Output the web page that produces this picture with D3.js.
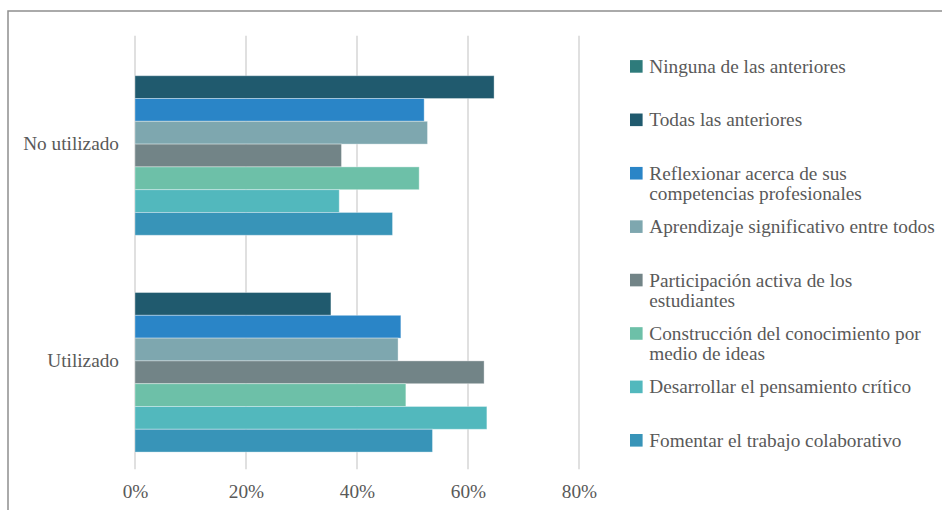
<!DOCTYPE html>
<html>
<head>
<meta charset="utf-8">
<script src="https://cdn.jsdelivr.net/npm/d3@7"></script>
<style>
  html, body { margin: 0; padding: 0; background: #fff; }
  svg { display: block; }
  svg text { font-family: "Liberation Serif", "DejaVu Serif", serif; fill: #595959; }
</style>
</head>
<body>
<svg id="chart" width="942" height="510"></svg>
<script>
// Categories on the vertical axis
const categories = ["No utilizado", "Utilizado"];

// Series (answer options), in legend order
const seriesNames = [
  "Ninguna de las anteriores",
  "Todas las anteriores",
  "Reflexionar acerca de sus competencias profesionales",
  "Aprendizaje significativo entre todos",
  "Participación activa de los estudiantes",
  "Construcción del conocimiento por medio de ideas",
  "Desarrollar el pensamiento crítico",
  "Fomentar el trabajo colaborativo"
];

// How each legend label breaks into lines
const legendLines = [
  ["Ninguna de las anteriores"],
  ["Todas las anteriores"],
  ["Reflexionar acerca de sus", "competencias profesionales"],
  ["Aprendizaje significativo entre todos"],
  ["Participación activa de los", "estudiantes"],
  ["Construcción del conocimiento por", "medio de ideas"],
  ["Desarrollar el pensamiento crítico"],
  ["Fomentar el trabajo colaborativo"]
];

const seriesColors = [
  "#2E7B7B", "#205A6E", "#2A85C7", "#7EA7AF",
  "#728487", "#6DC0A8", "#52B8BD", "#3894B8"
];

// Percentages per category, aligned with seriesNames
const noUtilizadoValues = [0, 64.7, 52.1, 52.7, 37.2, 51.2, 36.8, 46.4];
const utilizadoValues   = [0, 35.3, 47.9, 47.4, 62.9, 48.8, 63.4, 53.6];

const tickValues = [0, 20, 40, 60, 80];

const valuesByCategory = [noUtilizadoValues, utilizadoValues];
const rows = categories.map((c, i) => ({
  category: c,
  values: seriesNames.map((s, j) => ({ series: s, value: valuesByCategory[i][j], color: seriesColors[j] }))
}));

const svg = d3.select("#chart");
const FAMILY = '"Liberation Serif", "DejaVu Serif", serif';

// Size the text so the widest legend line spans about 286px
const probe = svg.append("text")
  .style("font-family", FAMILY)
  .style("font-size", "20px")
  .text("Aprendizaje significativo entre todos");
const probeW = probe.node().getComputedTextLength();
probe.remove();
const FONT = Math.round(20 * 286 / probeW * 10) / 10;

// Outer frame
svg.append("rect")
  .attr("x", 8).attr("y", 11)
  .attr("width", 1000).attr("height", 600)
  .attr("fill", "none")
  .attr("stroke", "#8f8f8f")
  .attr("stroke-width", 1.5);

const plot = { left: 135, right: 579, top: 35.7, bottom: 469.3 };

const x = d3.scaleLinear().domain([0, 80]).range([plot.left, plot.right]);

const y = d3.scaleBand()
  .domain(categories)
  .range([plot.top, plot.bottom])
  .paddingInner(0.159)
  .paddingOuter(0.0795);

const ySeries = d3.scaleBand()
  .domain(seriesNames)
  .range([0, y.bandwidth()])
  .padding(0);

// Vertical gridlines
svg.append("g")
  .selectAll("line")
  .data(tickValues)
  .join("line")
  .attr("x1", d => x(d)).attr("x2", d => x(d))
  .attr("y1", plot.top).attr("y2", plot.bottom)
  .attr("stroke", "#d6d6d6")
  .attr("stroke-width", 1.5);

// Bars
const groups = svg.append("g")
  .selectAll("g")
  .data(rows)
  .join("g")
  .attr("transform", d => `translate(0,${y(d.category)})`);

groups.selectAll("rect")
  .data(d => d.values.filter(v => v.value > 0))
  .join("rect")
  .attr("x", x(0))
  .attr("y", d => ySeries(d.series))
  .attr("width", d => x(d.value) - x(0))
  .attr("height", ySeries.bandwidth())
  .attr("fill", d => d.color)
  .attr("stroke", "rgba(255,255,255,0.35)")
  .attr("stroke-width", 1);

// X axis tick labels
const xAxis = d3.axisBottom(x)
  .tickValues(tickValues)
  .tickFormat(d => d + "%")
  .tickSize(0)
  .tickPadding(0);

const xg = svg.append("g")
  .attr("transform", `translate(0,${plot.bottom})`)
  .call(xAxis)
  .attr("font-family", null);
xg.select(".domain").remove();
xg.selectAll("text")
  .attr("dy", null)
  .attr("y", 29)
  .style("font-family", FAMILY)
  .style("font-size", FONT + "px")
  .attr("fill", "#595959");

// Category labels
const yAxis = d3.axisLeft(y).tickSize(0).tickPadding(0);
const yg = svg.append("g")
  .attr("transform", `translate(119,0)`)
  .call(yAxis)
  .attr("font-family", null);
yg.select(".domain").remove();
yg.selectAll("text")
  .style("font-family", FAMILY)
  .style("font-size", FONT + "px")
  .attr("fill", "#595959");

// Legend
const legendY = d3.scalePoint().domain(seriesNames).range([66.4, 440.3]);
const legend = svg.append("g")
  .selectAll("g")
  .data(seriesNames)
  .join("g")
  .attr("transform", d => `translate(630,${legendY(d)})`);

legend.append("rect")
  .attr("x", 0).attr("y", -6.3)
  .attr("width", 12.6).attr("height", 12.6)
  .attr("fill", (d, i) => seriesColors[i]);

legend.append("text")
  .attr("x", 19.3)
  .attr("y", 6.5)
  .style("font-family", FAMILY)
  .style("font-size", FONT + "px")
  .selectAll("tspan")
  .data((d, i) => legendLines[i])
  .join("tspan")
  .attr("x", 19.3)
  .attr("dy", (d, i) => i === 0 ? 0 : 20)
  .text(d => d);
</script>
</body>
</html>
